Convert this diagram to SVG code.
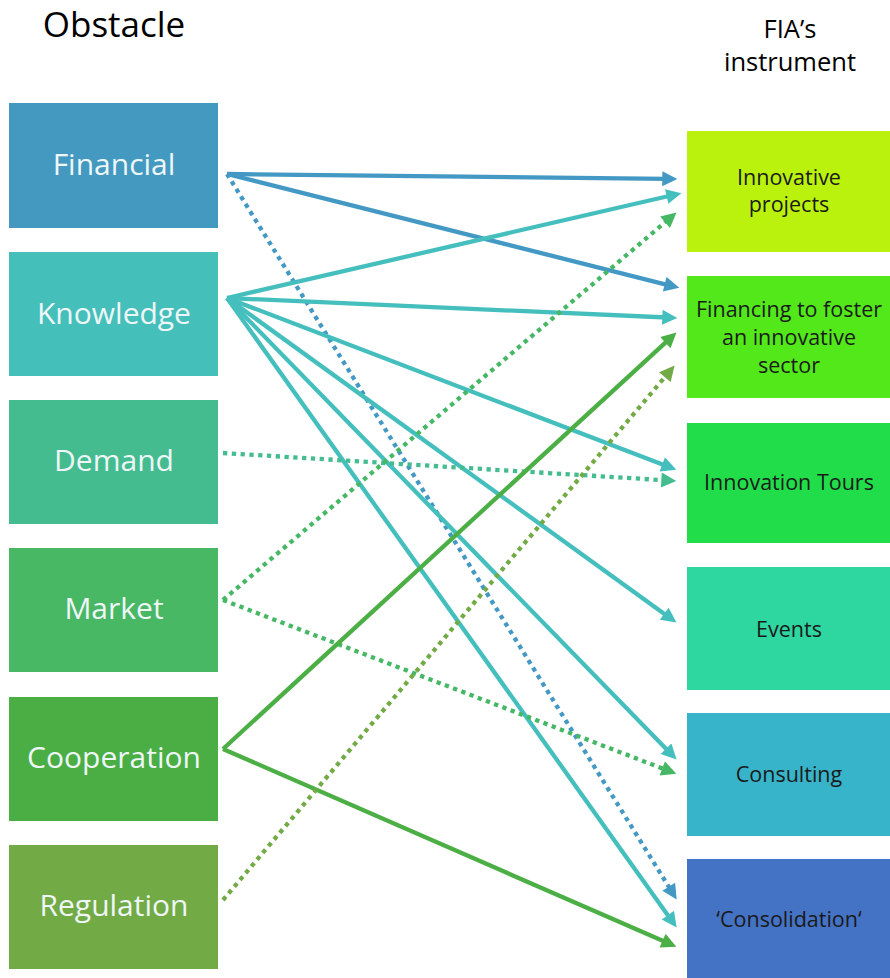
<svg xmlns="http://www.w3.org/2000/svg" width="890" height="978" viewBox="0 0 890 978">
<style>
.lt{font-family:"Open Sans","Liberation Sans",sans-serif;font-size:30px;fill:#EEF6F8;text-anchor:middle}
.rt{font-family:"Open Sans","Liberation Sans",sans-serif;font-size:21.5px;fill:#1a1a1a;text-anchor:middle}
.hd{font-family:"Open Sans","Liberation Sans",sans-serif;fill:#000;text-anchor:middle}
.c{fill:none;stroke-width:4.3}
.d{stroke-dasharray:4.3 4.5}
</style>
<defs>
<marker id="mB" viewBox="0 0 10 10" refX="3" refY="5" markerWidth="4" markerHeight="3.5" orient="auto" markerUnits="strokeWidth"><path d="M0,0L10,5L0,10z" fill="#4399C4"/></marker>
<marker id="mK" viewBox="0 0 10 10" refX="3" refY="5" markerWidth="4" markerHeight="3.5" orient="auto" markerUnits="strokeWidth"><path d="M0,0L10,5L0,10z" fill="#45BFBD"/></marker>
<marker id="mD" viewBox="0 0 10 10" refX="3" refY="5" markerWidth="4" markerHeight="3.5" orient="auto" markerUnits="strokeWidth"><path d="M0,0L10,5L0,10z" fill="#45BC90"/></marker>
<marker id="mM" viewBox="0 0 10 10" refX="3" refY="5" markerWidth="4" markerHeight="3.5" orient="auto" markerUnits="strokeWidth"><path d="M0,0L10,5L0,10z" fill="#46B865"/></marker>
<marker id="mC" viewBox="0 0 10 10" refX="3" refY="5" markerWidth="4" markerHeight="3.5" orient="auto" markerUnits="strokeWidth"><path d="M0,0L10,5L0,10z" fill="#4CAF45"/></marker>
<marker id="mR" viewBox="0 0 10 10" refX="3" refY="5" markerWidth="4" markerHeight="3.5" orient="auto" markerUnits="strokeWidth"><path d="M0,0L10,5L0,10z" fill="#72AA45"/></marker>
</defs>
<rect width="890" height="978" fill="#fff"/>
<text class="hd" x="114" y="37" font-size="35">Obstacle</text>
<text class="hd" x="790" y="38" font-size="25.5">FIA’s</text>
<text class="hd" x="790" y="71" font-size="25.5">instrument</text>

<g id="financial"><rect x="9" y="103" width="209" height="125" fill="#4399C0"/><text class="lt" x="114" y="175">Financial</text></g>
<g id="knowledge"><rect x="9" y="252" width="209" height="124" fill="#45BFBA"/><text class="lt" x="114" y="324">Knowledge</text></g>
<g id="demand"><rect x="9" y="400" width="209" height="124" fill="#44BC8F"/><text class="lt" x="114" y="471">Demand</text></g>
<g id="market"><rect x="9" y="548" width="209" height="124" fill="#48B865"/><text class="lt" x="114" y="619">Market</text></g>
<g id="cooperation"><rect x="9" y="697" width="209" height="124" fill="#4AAE44"/><text class="lt" x="114" y="768">Cooperation</text></g>
<g id="regulation"><rect x="9" y="845" width="209" height="124" fill="#72AA45"/><text class="lt" x="114" y="916">Regulation</text></g>

<g id="innovative-projects"><rect x="687" y="131" width="203" height="121" fill="#BAF20E"/><text class="rt" x="789" y="185">Innovative</text><text class="rt" x="789" y="212">projects</text></g>
<g id="financing"><rect x="687" y="276" width="203" height="122" fill="#52E81A"/><text class="rt" x="789" y="317">Financing to foster</text><text class="rt" x="789" y="345">an innovative</text><text class="rt" x="789" y="373">sector</text></g>
<g id="innovation-tours"><rect x="687" y="423" width="203" height="120" fill="#22DD4A"/><text class="rt" x="789" y="490">Innovation Tours</text></g>
<g id="events"><rect x="687" y="567" width="203" height="123" fill="#2ED6A0"/><text class="rt" x="789" y="637">Events</text></g>
<g id="consulting"><rect x="687" y="713" width="203" height="123" fill="#37B4CA"/><text class="rt" x="789" y="782">Consulting</text></g>
<g id="consolidation"><rect x="687" y="859" width="203" height="119" fill="#4472C4"/><text class="rt" x="789" y="927" fill="#0d1a33">‘Consolidation‘</text></g>

<g id="connectors">
<line class="c" x1="227" y1="174" x2="666.8" y2="178.9" stroke="#4399C4" marker-end="url(#mB)"/>
<line class="c" x1="227" y1="174" x2="669.1" y2="285.3" stroke="#4399C4" marker-end="url(#mB)"/>
<line class="c d" x1="227" y1="174" x2="671.1" y2="890.5" stroke="#4399C4" marker-end="url(#mB)"/>
<line class="c" x1="227" y1="298" x2="671.1" y2="195.5" stroke="#45BFBD" marker-end="url(#mK)"/>
<line class="c" x1="227" y1="298" x2="666.8" y2="317.5" stroke="#45BFBD" marker-end="url(#mK)"/>
<line class="c" x1="227" y1="298" x2="666.5" y2="466" stroke="#45BFBD" marker-end="url(#mK)"/>
<line class="c" x1="227" y1="298" x2="667.9" y2="616.4" stroke="#45BFBD" marker-end="url(#mK)"/>
<line class="c" x1="227" y1="298" x2="669.2" y2="752" stroke="#45BFBD" marker-end="url(#mK)"/>
<line class="c" x1="227" y1="298" x2="670.5" y2="918.9" stroke="#45BFBD" marker-end="url(#mK)"/>
<line class="c d" x1="223" y1="453" x2="665.8" y2="480.3" stroke="#45BC90" marker-end="url(#mD)"/>
<line class="c d" x1="223" y1="600" x2="668.5" y2="219.3" stroke="#46B865" marker-end="url(#mM)"/>
<line class="c d" x1="223" y1="600" x2="666.5" y2="770" stroke="#46B865" marker-end="url(#mM)"/>
<line class="c" x1="223" y1="749" x2="668.7" y2="339.6" stroke="#4CAF45" marker-end="url(#mC)"/>
<line class="c" x1="223" y1="749" x2="666.7" y2="942.5" stroke="#4CAF45" marker-end="url(#mC)"/>
<line class="c d" x1="223" y1="900" x2="667.8" y2="373.6" stroke="#72AA45" marker-end="url(#mR)"/>
</g>
</svg>
